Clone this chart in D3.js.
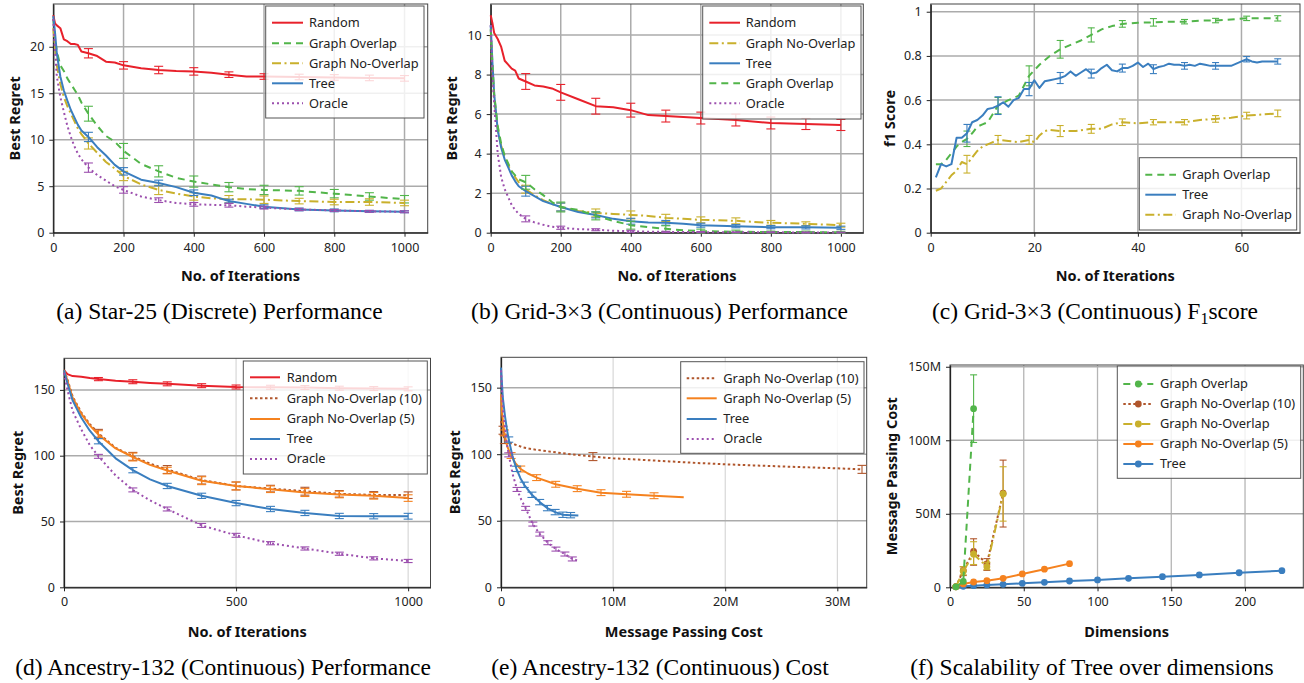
<!DOCTYPE html>
<html><head><meta charset="utf-8">
<script src="https://cdn.jsdelivr.net/npm/d3@7"></script>
<style>
body{margin:0;background:#fff;}
</style></head><body>
<svg id="c" width="1304" height="683"></svg>
<script>
// ---------- DATA ----------
// (a) Star-25 (Discrete) and (b) Grid-3x3 share iteration grid
const ITER = [0,5,10,20,30,40,50,60,70,80,100,125,150,175,200,250,300,350,400,450,500,550,600,700,800,900,1000];
const BAR_ITER = [100,200,300,400,500,600,700,800,900,1000];

const aRandom    = [23.4,22.5,22.3,22.0,20.8,20.6,20.3,20.3,20.2,19.5,19.3,19.0,18.4,18.3,18.0,17.7,17.5,17.4,17.35,17.2,17.0,16.8,16.8,16.75,16.7,16.65,16.6];
const aOverlap   = [23.0,21.0,19.5,18.0,17.4,16.6,16.0,15.4,14.8,14.0,12.8,11.5,10.4,9.8,8.8,7.4,6.6,5.9,5.5,5.2,4.9,4.7,4.6,4.5,4.2,3.9,3.6];
const aNoOverlap = [22.0,20.0,18.0,16.0,14.6,13.6,12.8,12.0,11.2,10.6,9.6,8.6,7.6,6.9,6.1,5.2,4.6,4.2,3.9,3.7,3.6,3.6,3.55,3.4,3.3,3.3,3.2];
const aTree      = [23.3,21.5,19.3,16.8,15.3,14.2,13.2,12.4,11.6,11.0,10.3,9.2,8.3,7.3,6.6,5.7,5.35,4.9,4.3,4.0,3.4,3.1,2.8,2.5,2.4,2.3,2.25];
const aOracle    = [23.0,19.5,16.8,14.6,13.0,11.5,10.3,9.3,8.5,7.9,7.0,6.2,5.6,5.0,4.6,3.9,3.5,3.2,3.05,3.0,2.95,2.8,2.7,2.5,2.4,2.3,2.25];
const aRandomErr    = [0.5,0.4,0.4,0.4,0.3,0.3,0.3,0.3,0.3,0.3];
const aOverlapErr   = [0.8,0.8,0.6,0.6,0.5,0.5,0.45,0.45,0.4,0.4];
const aNoOverlapErr = [0.6,0.5,0.5,0.4,0.4,0.4,0.3,0.3,0.35,0.3];
const aTreeErr      = [0.5,0.4,0.3,0.3,0.2,0.2,0.15,0.15,0.1,0.1];
const aOracleErr    = [0.5,0.35,0.25,0.2,0.2,0.15,0.12,0.1,0.1,0.1];

const bRandom    = [11.0,10.6,10.1,9.8,9.4,8.7,8.5,8.3,8.2,7.8,7.65,7.45,7.4,7.3,7.1,6.75,6.4,6.35,6.2,5.95,5.9,5.85,5.8,5.7,5.55,5.5,5.45];
const bNoOverlap = [10.0,8.2,6.8,5.2,4.4,3.8,3.4,3.1,2.8,2.55,2.2,1.9,1.65,1.45,1.3,1.1,1.0,0.95,0.9,0.85,0.75,0.7,0.65,0.6,0.5,0.45,0.38];
const bTree      = [10.5,8.6,7.0,5.2,4.3,3.7,3.3,2.9,2.6,2.35,2.1,1.85,1.6,1.45,1.3,1.05,0.9,0.7,0.58,0.52,0.5,0.45,0.38,0.33,0.28,0.27,0.25];
const bOverlap   = [10.3,8.5,7.0,5.4,4.5,3.9,3.5,3.1,2.9,2.7,2.55,2.2,1.9,1.55,1.3,1.15,0.85,0.6,0.38,0.28,0.2,0.12,0.08,0.05,0.03,0.03,0.02];
const bOracle    = [10.5,8.0,6.5,4.0,2.8,2.2,1.8,1.4,1.15,0.95,0.7,0.52,0.4,0.3,0.25,0.18,0.15,0.1,0.07,0.05,0.04,0.03,0.03,0.02,0.02,0.01,0.01];
const bRandomErr    = [0.4,0.4,0.4,0.35,0.3,0.3,0.3,0.3,0.28,0.28];
const bNoOverlapErr = [0.2,0.2,0.2,0.2,0.18,0.15,0.15,0.12,0.1,0.1];
const bTreeErr      = [0.25,0.2,0.15,0.15,0.12,0.1,0.08,0.08,0.08,0.08];
const bOverlapErr   = [0.35,0.25,0.2,0.2,0.15,0.1,0.08,0.05,0.05,0.05];
const bOracleErr    = [0.15,0.08,0.05,0.05,0.03,0.03,0.02,0.02,0.02,0.02];

// (c) F1 score
const C_BARS = [7,13,19,25,31,37,43,49,55,61,67];
const cTreeIter = [1,2,3,4,5,6,7,8,9,10,11,12,13,14,15,16,17,18,19,20,21,22,23,24,25,26,27,28,29,30,31,32,33,34,35,36,37,38,39,40,41,42,43,44,45,46,47,48,49,50,51,52,53,54,55,56,57,58,59,60,61,62,63,64,65,66,67];
const cTree = [0.25,0.31,0.30,0.31,0.43,0.43,0.45,0.50,0.51,0.53,0.56,0.565,0.575,0.59,0.57,0.60,0.61,0.65,0.65,0.69,0.655,0.685,0.69,0.695,0.70,0.71,0.73,0.71,0.725,0.74,0.72,0.725,0.745,0.76,0.735,0.73,0.745,0.745,0.755,0.77,0.75,0.765,0.74,0.75,0.755,0.765,0.76,0.76,0.755,0.76,0.755,0.765,0.76,0.755,0.755,0.755,0.755,0.755,0.765,0.775,0.785,0.775,0.77,0.775,0.775,0.775,0.775];
const cTreeErr = [0.04,0.04,0.03,0.025,0.02,0.018,0.02,0.015,0.015,0.012,0.012];
const cOverlapIter = [1,2,3,4,5,6,7,8,9,10,11,13,15,17,19,21,23,25,27,29,31,33,35,37,40,43,46,49,52,55,58,61,64,67];
const cOverlap = [0.31,0.31,0.33,0.36,0.39,0.41,0.425,0.45,0.48,0.49,0.50,0.575,0.60,0.62,0.71,0.76,0.80,0.83,0.85,0.87,0.895,0.92,0.935,0.945,0.95,0.952,0.955,0.955,0.96,0.96,0.965,0.97,0.97,0.97];
const cOverlapErr = [0.035,0.037,0.045,0.04,0.032,0.015,0.017,0.01,0.01,0.01,0.012];
const cNoOverlapIter = [1,2,3,4,5,6,7,8,9,10,11,12,13,15,17,19,20,21,22,23,25,28,31,33,35,37,40,43,46,49,52,55,58,61,64,67];
const cNoOverlap = [0.19,0.20,0.23,0.26,0.28,0.32,0.31,0.34,0.37,0.39,0.40,0.41,0.42,0.415,0.41,0.42,0.41,0.44,0.46,0.465,0.46,0.46,0.47,0.47,0.49,0.50,0.495,0.50,0.50,0.50,0.51,0.515,0.52,0.53,0.535,0.54];
const cNoOverlapErr = [0.04,0.02,0.02,0.025,0.02,0.015,0.012,0.012,0.015,0.015,0.015];

// (d) Ancestry-132 performance
const ITER_D = [0,10,25,50,75,100,150,200,250,300,400,500,600,700,800,900,1000];
const dRandom = [165,162,160.5,160,159,158.2,157,156.2,155.3,154.6,153.2,152.2,152,151.8,151.3,151,150.8];
const dNo10   = [165,158,145,133,124,117,106,99.5,94,89.5,81.5,77,75,73,71,70.2,70];
const dNo5    = [165,157,144,132,123,116,105.5,99,93,88.7,81,77,74.5,72,70.5,69.5,67.8];
const dTree   = [165,155,142,129,119,111,98,89,82,77,69.5,64,59.5,56.5,54.2,54,54];
const dOracle = [163,150,134,120,108,99.5,85,74,66,59.5,47,39.5,33.5,29.5,25.5,22,20];
const dRandomErr = [1.2,1.5,1.5,1.5,1.5,1.5,1.5,1.5,1.5,1.5];
const dNo10Err   = [3,3,3,3,3,2.5,3,2.5,2.5,2.5];
const dNo5Err    = [3,3,2.5,3,3,2.5,3,2.5,2.5,2.5];
const dTreeErr   = [2,2,2,2,2,2,2,2,2,2.2];
const dOracleErr = [1.5,1.5,1.5,1.5,1.5,1.2,1.2,1.2,1.2,1.2];

// (e) Ancestry-132 cost (cost in millions)
const eNo10Cost   = [0,0.18,0.3,0.6,1,2,3,4.5,6,8.2,10,12.5,15,17.5,20,22.5,25,27.5,30,32.2];
const eNo10Regret = [125,118,111,109,108,105,103.5,101.8,100.2,98.2,96.9,95.8,94.6,93.4,92.4,91.6,90.8,90.1,89.4,88.6];
const eNo10Bars = [0.18,0.3,8.2,32.2];
const eNo5Cost   = [0,0.1,0.3,0.55,0.9,1.3,1.76,2.4,3.18,4.88,6.8,8.92,11.2,13.65,16.3];
const eNo5Regret = [145,130,116,106,99,93,88.9,85.5,82.4,77.4,74.1,71.1,69.9,68.8,67.6];
const eNo5Bars = [0.3,0.9,1.76,3.18,4.88,6.8,8.92,11.2,13.65];
const eTreeCost   = [0,0.07,0.17,0.35,0.52,0.69,1.04,1.38,1.73,2.07,2.76,3.45,4.14,4.83,5.52,6.21,6.9];
const eTreeRegret = [165,155,142,129,119,111,98,89,82,77,69.5,64,59.5,56.5,54.5,54.2,54];
const eTreeBars = [0.69,1.38,2.07,2.76,3.45,4.14,4.83,5.52,6.21];
const eOracleCost   = [0,0.07,0.17,0.35,0.52,0.69,1.04,1.43,1.8,2.2,2.84,3.46,4.18,4.9,5.7,6.36,6.96];
const eOracleRegret = [163,150,134,120,108,99.5,85,73.5,66,59.3,47.5,40,33.5,28.7,25,21.3,19.8];
const eOracleBars = [0.69,1.43,2.2,2.84,3.46,4.18,4.9,5.7,6.36];

// (f) Scalability (cost in millions)
const fTreeDims = [4,9,16,25,36,49,64,81,100,121,144,169,196,225];
const fTree     = [0.4,0.7,1.1,1.6,2.0,2.7,3.4,4.3,5.0,6.1,7.2,8.4,9.9,11.3];
const fNo5Dims  = [4,9,16,25,36,49,64,81];
const fNo5      = [0.5,2.3,3.6,4.5,6.1,9.1,12.3,16.1];
const fNo10Dims = [4,9,16,25,36];
const fNo10     = [0.3,11.5,24.5,16,64];
const fNo10Lo   = [null,8,15,11.5,41];
const fNo10Hi   = [null,14,33,19.5,86.5];
const fNoDims   = [4,9,16,25,36];
const fNo       = [0.3,11,22.5,14,63.5];
const fNoLo     = [null,8.5,15.5,12,45];
const fNoHi     = [null,14,31,17,82];
const fOvDims   = [4,9,16];
const fOv       = [0.3,4,121.5];
const fOvLo     = [null,null,98.5];
const fOvHi     = [null,null,144.5];

// tick values
const aXT=[0,200,400,600,800,1000], aYT=[0,5,10,15,20];
const bXT=[0,200,400,600,800,1000], bYT=[0,2,4,6,8,10];
const cXT=[0,20,40,60], cYT=[0,0.2,0.4,0.6,0.8,1];
const dXT=[0,500,1000], dYT=[0,50,100,150];
const eXT=[0,10,20,30], eYT=[0,50,100,150];
const fXT=[0,50,100,150,200], fYT=[0,50,100,150];

// ---------- STYLES ----------
const ST = {
  random:{c:"#e8212b", d:null, n:"Random"},
  overlap:{c:"#52b54a", d:"7,5", n:"Graph Overlap"},
  noover:{c:"#c9b02c", d:"9,3.5,2,3.5", n:"Graph No-Overlap"},
  tree:{c:"#3a7ebf", d:null, n:"Tree"},
  oracle:{c:"#9c4fae", d:"2,3", n:"Oracle"},
  no10:{c:"#b0562c", d:"2.5,2.5", n:"Graph No-Overlap (10)"},
  no5:{c:"#f5821f", d:null, n:"Graph No-Overlap (5)"}
};
const MF = d => d===0 ? "0" : d+"M";
const SANS = "'Noto Sans','Open Sans',sans-serif";
const SERIF = "'Liberation Serif','Times New Roman',serif";

const svg = d3.select("#c");
svg.append("rect").attr("width",1304).attr("height",683).attr("fill","#fff");

function panel(P){
  const x = d3.scaleLinear().domain(P.xd).range([P.L,P.R]);
  const y = d3.scaleLinear().domain(P.yd).range([P.B,P.T]);
  const g = svg.append("g").style("font-family",SANS);
  g.append("g").selectAll("line").data(P.xt.filter(v=>v>0)).join("line")
    .attr("x1",d=>x(d)).attr("x2",d=>x(d)).attr("y1",P.T).attr("y2",P.B)
    .attr("stroke",P.gvc||"#ababab").attr("stroke-width",P.gvw||1.5);
  g.append("g").selectAll("line").data(P.yt.filter(v=>v>0)).join("line")
    .attr("y1",d=>y(d)).attr("y2",d=>y(d)).attr("x1",P.L).attr("x2",P.R)
    .attr("stroke","#ababab").attr("stroke-width",1.5);
  g.append("rect").attr("x",P.L).attr("y",P.T).attr("width",P.R-P.L).attr("height",P.B-P.T)
    .attr("fill","none").attr("stroke","#444").attr("stroke-width",1);
  const ax = g.append("g").attr("transform",`translate(0,${P.B})`)
    .call(d3.axisBottom(x).tickValues(P.xt).tickFormat(P.xf||(d=>d)).tickSize(4).tickPadding(6).tickSizeOuter(0));
  const ay = g.append("g").attr("transform",`translate(${P.L},0)`)
    .call(d3.axisLeft(y).tickValues(P.yt).tickFormat(P.yf||(d=>d)).tickSize(4).tickPadding(5).tickSizeOuter(0));
  [ax,ay].forEach(a=>{
    a.attr("font-family",SANS);
    a.selectAll("text").attr("font-size",12.5).attr("fill","#222");
    a.select(".domain").attr("stroke","#222").attr("stroke-width",1.3);
    a.selectAll(".tick line").attr("stroke","#222");
  });
  // series
  P.series.forEach(s=>{
    const st = ST[s.k];
    const line = d3.line().x((d,i)=>x(s.x[i])).y(d=>y(d));
    g.append("path").attr("d",line(s.y)).attr("fill","none").attr("stroke",st.c)
      .attr("stroke-width",2).attr("stroke-dasharray",st.d).attr("stroke-linejoin","round");
    const cw = P.cap||4.5;
    const drawBar=(cx,lo,hi)=>{
      const px=x(cx);
      g.append("line").attr("x1",px).attr("x2",px).attr("y1",y(lo)).attr("y2",y(hi)).attr("stroke",st.c).attr("stroke-width",1.1);
      [lo,hi].forEach(v=>g.append("line").attr("x1",px-cw).attr("x2",px+cw).attr("y1",y(v)).attr("y2",y(v)).attr("stroke",st.c).attr("stroke-width",1.1));
    };
    if(s.bars){
      s.bars.forEach((bx,j)=>{
        const i = s.x.indexOf(bx); const v=s.y[i]; const e=s.err?s.err[j]:s.e;
        drawBar(bx,v-e,v+e);
      });
    }
    if(s.lo){
      s.x.forEach((xx,i)=>{ if(s.lo[i]!=null) drawBar(xx,s.lo[i],s.hi[i]); });
    }
    if(s.dots){
      g.append("g").selectAll("circle").data(s.y).join("circle")
        .attr("cx",(d,i)=>x(s.x[i])).attr("cy",d=>y(d)).attr("r",3.4).attr("fill",st.c);
    }
  });
  // legend
  const L = P.leg;
  g.append("rect").attr("x",L.x0).attr("y",L.y0).attr("width",L.x1-L.x0).attr("height",L.y1-L.y0)
    .attr("fill","#fff").attr("fill-opacity",0.82).attr("stroke","#555").attr("stroke-width",1);
  L.items.forEach((k,i)=>{
    const st=ST[k], yy=L.ys[i];
    g.append("line").attr("x1",L.lx0).attr("x2",L.lx1).attr("y1",yy).attr("y2",yy)
      .attr("stroke",st.c).attr("stroke-width",2).attr("stroke-dasharray",st.d);
    if(L.dots) g.append("circle").attr("cx",(L.lx0+L.lx1)/2).attr("cy",yy).attr("r",3.4).attr("fill",st.c);
    g.append("text").attr("x",L.tx).attr("y",yy).attr("dy","0.35em").attr("font-size",12.8)
      .attr("fill","#222").text(st.n);
  });
  // titles
  g.append("text").attr("x",(P.L+P.R)/2).attr("y",P.xty).attr("dy","0.35em").attr("text-anchor","middle")
    .attr("font-size",14.5).attr("font-weight","bold").attr("fill","#111").text(P.xtitle);
  g.append("text").attr("transform",`translate(${P.ytx},${(P.T+P.B)/2}) rotate(-90)`).attr("dy","0.35em")
    .attr("text-anchor","middle").attr("font-size",14.5).attr("font-weight","bold").attr("fill","#111").text(P.ytitle);
  const t = g.append("text").attr("x",P.capx).attr("y",P.capy).attr("text-anchor","middle")
    .attr("font-size",23.5).attr("fill","#000").style("font-family",SERIF);
  P.caption.forEach(part=>{
    const ts=t.append("tspan").text(part.t);
    if(part.sub) ts.attr("font-size",16).attr("dy",5);
    if(part.after) ts.attr("dy",-5);
  });
}

const LY5 = [22.7,43.3,63.3,83.3,103.3];

panel({L:53.3,R:427.7,T:4,B:232.7,xd:[0,1066],yd:[0,24.6],xt:aXT,yt:aYT,
  series:[
    {k:"random",x:ITER,y:aRandom,bars:BAR_ITER,err:aRandomErr},
    {k:"overlap",x:ITER,y:aOverlap,bars:BAR_ITER,err:aOverlapErr},
    {k:"noover",x:ITER,y:aNoOverlap,bars:BAR_ITER,err:aNoOverlapErr},
    {k:"tree",x:ITER,y:aTree,bars:BAR_ITER,err:aTreeErr},
    {k:"oracle",x:ITER,y:aOracle,bars:BAR_ITER,err:aOracleErr}],
  leg:{x0:265.7,x1:424,y0:6,y1:118,lx0:272,lx1:303,tx:309,ys:LY5,items:["random","overlap","noover","tree","oracle"]},
  xtitle:"No. of Iterations",xty:276,ytitle:"Best Regret",ytx:15,
  capx:219.5,capy:319,caption:[{t:"(a) Star-25 (Discrete) Performance"}]});

panel({L:490.7,R:863.3,T:4,B:232.7,xd:[0,1064],yd:[0,11.57],xt:bXT,yt:bYT,
  series:[
    {k:"random",x:ITER,y:bRandom,bars:BAR_ITER,err:bRandomErr},
    {k:"noover",x:ITER,y:bNoOverlap,bars:BAR_ITER,err:bNoOverlapErr},
    {k:"tree",x:ITER,y:bTree,bars:BAR_ITER,err:bTreeErr},
    {k:"overlap",x:ITER,y:bOverlap,bars:BAR_ITER,err:bOverlapErr},
    {k:"oracle",x:ITER,y:bOracle,bars:BAR_ITER,err:bOracleErr}],
  leg:{x0:702.7,x1:861,y0:6,y1:119,lx0:709.3,lx1:740,tx:745.7,ys:LY5,items:["random","noover","tree","overlap","oracle"]},
  xtitle:"No. of Iterations",xty:276,ytitle:"Best Regret",ytx:451.7,
  capx:659.5,capy:319,caption:[{t:"(b) Grid-3×3 (Continuous) Performance"}]});

panel({L:930.7,R:1300,T:4,B:232.7,xd:[0,71.3],yd:[0,1.035],xt:cXT,yt:cYT,cap:3.5,
  series:[
    {k:"overlap",x:cOverlapIter,y:cOverlap,bars:C_BARS,err:cOverlapErr},
    {k:"tree",x:cTreeIter,y:cTree,bars:C_BARS,err:cTreeErr},
    {k:"noover",x:cNoOverlapIter,y:cNoOverlap,bars:C_BARS,err:cNoOverlapErr}],
  leg:{x0:1139.3,x1:1296.7,y0:157.7,y1:230,lx0:1145.3,lx1:1176,tx:1182.3,ys:[174.7,194.7,214.7],items:["overlap","tree","noover"]},
  xtitle:"No. of Iterations",xty:276,ytitle:"f1 Score",ytx:890,
  capx:1095,capy:319,caption:[{t:"(c) Grid-3×3 (Continuous) F"},{t:"1",sub:true},{t:"score",after:true}]});

panel({L:64,R:430.5,T:358.3,B:587.3,xd:[0,1065],yd:[0,174],xt:dXT,yt:dYT,gvc:"#cfcfcf",gvw:1,
  series:[
    {k:"random",x:ITER_D,y:dRandom,bars:BAR_ITER,err:dRandomErr},
    {k:"no10",x:ITER_D,y:dNo10,bars:BAR_ITER,err:dNo10Err},
    {k:"no5",x:ITER_D,y:dNo5,bars:BAR_ITER,err:dNo5Err},
    {k:"tree",x:ITER_D,y:dTree,bars:BAR_ITER,err:dTreeErr},
    {k:"oracle",x:ITER_D,y:dOracle,bars:BAR_ITER,err:dOracleErr}],
  leg:{x0:243.3,x1:427.3,y0:361,y1:474,lx0:250,lx1:280,tx:286.7,ys:[377.3,398.3,419,439,459],items:["random","no10","no5","tree","oracle"]},
  xtitle:"No. of Iterations",xty:631.7,ytitle:"Best Regret",ytx:18.3,
  capx:223,capy:675,caption:[{t:"(d) Ancestry-132 (Continuous) Performance"}]});

panel({L:501,R:866.7,T:357.3,B:587.3,xd:[0,32.62],yd:[0,172.8],xt:eXT,yt:eYT,xf:MF,gvc:"#cfcfcf",gvw:1,
  series:[
    {k:"no10",x:eNo10Cost,y:eNo10Regret,bars:eNo10Bars,e:3},
    {k:"no5",x:eNo5Cost,y:eNo5Regret,bars:eNo5Bars,e:2.2},
    {k:"tree",x:eTreeCost,y:eTreeRegret,bars:eTreeBars,e:2},
    {k:"oracle",x:eOracleCost,y:eOracleRegret,bars:eOracleBars,e:1.5}],
  leg:{x0:680.7,x1:864,y0:361.7,y1:453.3,lx0:686.7,lx1:716.7,tx:723.3,ys:[378.3,398.3,419,439],items:["no10","no5","tree","oracle"]},
  xtitle:"Message Passing Cost",xty:631.7,ytitle:"Best Regret",ytx:455,
  capx:660,capy:675,caption:[{t:"(e) Ancestry-132 (Continuous) Cost"}]});

panel({L:950,R:1303.3,T:365,B:587.3,xd:[0,239.5],yd:[0,151.2],xt:fXT,yt:fYT,yf:MF,gvc:"#b5b5b5",gvw:1.3,cap:3.5,
  series:[
    {k:"tree",x:fTreeDims,y:fTree,dots:true},
    {k:"no5",x:fNo5Dims,y:fNo5,dots:true},
    {k:"no10",x:fNo10Dims,y:fNo10,lo:fNo10Lo,hi:fNo10Hi,dots:true},
    {k:"noover",x:fNoDims,y:fNo,lo:fNoLo,hi:fNoHi,dots:true},
    {k:"overlap",x:fOvDims,y:fOv,lo:fOvLo,hi:fOvHi,dots:true}],
  leg:{x0:1117.3,x1:1300.7,y0:366,y1:478.3,lx0:1123.3,lx1:1153.3,tx:1160,dots:true,ys:[384,404,424,444,464],items:["overlap","no10","noover","no5","tree"]},
  xtitle:"Dimensions",xty:631.7,ytitle:"Message Passing Cost",ytx:891.7,
  capx:1092,capy:675,caption:[{t:"(f) Scalability of Tree over dimensions"}]});
</script>
</body></html>
